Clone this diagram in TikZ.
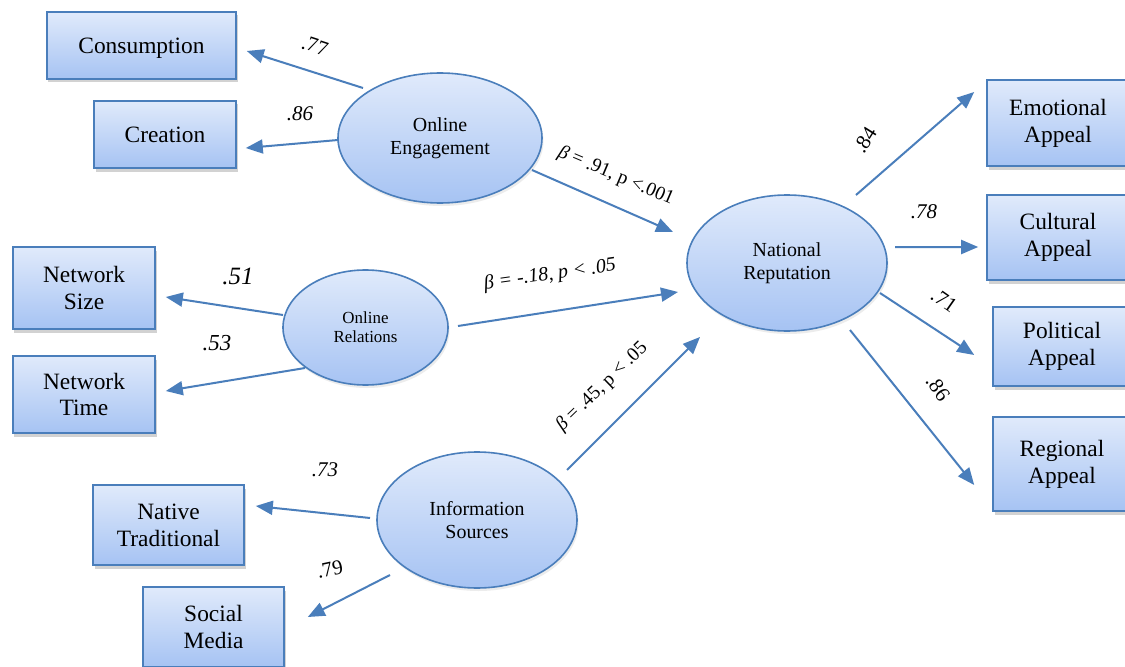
\documentclass[tikz,border=0pt]{standalone}
\usepackage{fontspec}
\setmainfont{Liberation Serif}
\usetikzlibrary{arrows.meta,shadows,calc,shapes.geometric}
\definecolor{edgec}{HTML}{4A7EBB}
\definecolor{topc}{HTML}{E0EAFB}
\definecolor{botc}{HTML}{A6C3F3}
\tikzset{
  box/.style={draw=edgec, line width=1.6bp, top color=topc, bottom color=botc,
    minimum width=142bp, minimum height=67bp, align=center, inner sep=0pt,
    font=\fontsize{23.5}{27}\selectfont,
    drop shadow={shadow xshift=1.5bp, shadow yshift=-3.5bp, opacity=0.35}},
  oneline/.style={text height=20bp, text depth=4.5bp},
  latent/.style={ellipse, draw=edgec, line width=1.6bp, top color=topc, bottom color=botc,
    align=center, inner sep=0pt, font=\fontsize{20}{23.5}\selectfont,
    drop shadow={shadow xshift=1.5bp, shadow yshift=-3bp, opacity=0.15}},
  arr/.style={draw=edgec, line width=2bp, -{Triangle[length=17bp,width=14bp]}},
  lab/.style={inner sep=0pt, font=\fontsize{21}{24}\selectfont\itshape},
  labr/.style={inner sep=0pt, font=\fontsize{21}{24}\selectfont},
  coef/.style={inner sep=0pt, font=\fontsize{19.5}{23}\selectfont},
}
\begin{document}
\begin{tikzpicture}[x=1bp, y=-1bp]
\path[use as bounding box, clip] (0,0) rectangle (1125,667);
\fill[white] (0,0) rectangle (1125,667);

% indicator boxes
\node[box, oneline, minimum width=189bp] (cons) at (141.5,45.5) {Consumption};
\node[box, oneline] (crea) at (165,134.5) {Creation};
\node[box, minimum height=82bp] (nsz) at (84,288) {Network\\Size};
\node[box, minimum height=77bp] (ntm) at (84,394.5) {Network\\Time};
\node[box, minimum width=151bp, minimum height=80bp] (nat) at (168.5,525) {Native\\Traditional};
\node[box, minimum width=141bp, minimum height=80bp] (soc) at (213.5,627) {Social\\Media};
\node[box, minimum height=86bp] (emo) at (1058,123) {Emotional\\Appeal};
\node[box, minimum height=85bp] (cul) at (1058,237.5) {Cultural\\Appeal};
\node[box, minimum width=138bp, minimum height=79bp] (pol) at (1062,346.5) {Political\\Appeal};
\node[box, minimum width=138bp, minimum height=94bp] (reg) at (1062,464) {Regional\\Appeal};

% latent variables
\node[latent, minimum width=204bp, minimum height=130bp] (oe) at (440,138) {Online\\Engagement};
\node[latent, minimum width=165bp, minimum height=115bp, font=\fontsize{17}{19}\selectfont] (orl) at (365.5,327.5) {Online\\Relations};
\node[latent, minimum width=200bp, minimum height=136bp] (nr) at (787,263) {National\\Reputation};
\node[latent, minimum width=200bp, minimum height=136bp] (is) at (477,520) {Information\\Sources};

% connectors
\draw[arr] ($(oe)+(-77,-50)$) -- ($(cons.east)+(10,5.5)$);
\draw[arr] ($(oe)+(-102,2)$) -- ($(crea.east)+(9,13.5)$);
\draw[arr] ($(oe)+(92,32)$) -- ($(nr)+(-114,-31)$);
\draw[arr] ($(orl)+(-82.5,-12.5)$) -- ($(nsz.east)+(10,9)$);
\draw[arr] ($(orl)+(-60.5,40.5)$) -- ($(ntm.east)+(10,-3.5)$);
\draw[arr] ($(orl)+(92.5,-1.5)$) -- ($(nr)+(-109,29)$);
\draw[arr] ($(is)+(90,-50)$) -- ($(nr)+(-87,74)$);
\draw[arr] ($(is)+(-107,-2)$) -- ($(nat.east)+(11,-19)$);
\draw[arr] ($(is)+(-87,55)$) -- ($(soc.east)+(23,-10)$);
\draw[arr] ($(nr)+(69,-68)$) -- ($(emo.west)+(-12,-31)$);
\draw[arr] ($(nr)+(108,-16)$) -- ($(cul.west)+(-8,9.5)$);
\draw[arr] ($(nr)+(93,30)$) -- ($(pol.west)+(-18,8.5)$);
\draw[arr] ($(nr)+(63,67)$) -- ($(reg.west)+(-18,21)$);

% loadings
\node[labr, rotate=-18] (l77) at (315,46) {.77};
\node[lab] (l86a) at (300,114) {.86};
\node[lab, font=\fontsize{25}{28}\selectfont\itshape] (l51) at (238,276) {.51};
\node[lab, font=\fontsize{23}{26}\selectfont\itshape] (l53) at (217,343) {.53};
\node[lab] (l73) at (325,470) {.73};
\node[labr, rotate=12] (l79) at (330,569) {.79};
\node[labr, rotate=58] (l84) at (865,140) {.84};
\node[lab] (l78) at (924,212) {.78};
\node[labr, rotate=-35] (l71) at (944,300) {.71};
\node[labr, rotate=-55] (l86b) at (938,388) {.86};

% structural coefficients
\node[coef, rotate=-23] (b1) at (616,176) {\textit{β} = .91, p <.001};
\node[coef, rotate=8, font=\fontsize{20}{23}\selectfont\itshape] (b2) at (550,275) {β = -.18, p < .05};
\node[coef, rotate=44] (b3) at (602,387) {\textit{β} = .45, p < .05};
\end{tikzpicture}
\end{document}
